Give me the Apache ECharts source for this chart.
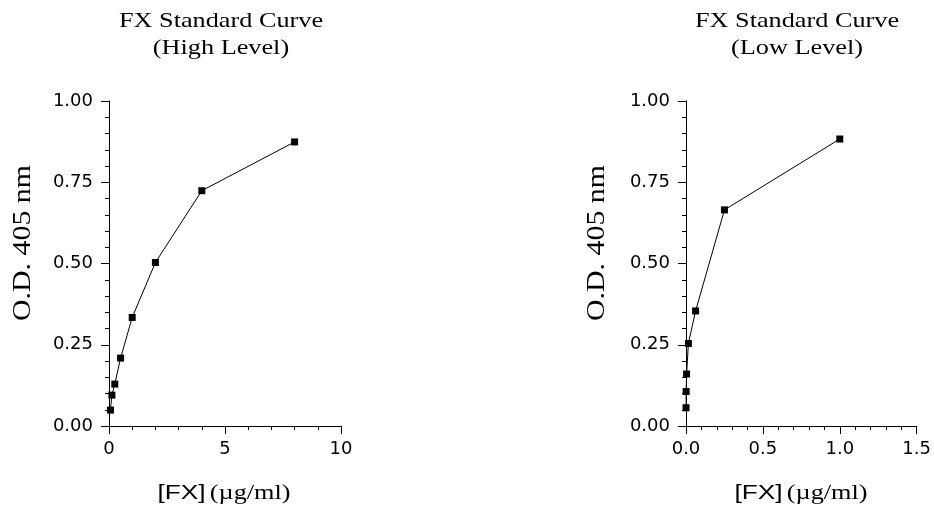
<!DOCTYPE html>
<html><head><meta charset="utf-8">
<script src="https://cdn.jsdelivr.net/npm/echarts@6/dist/echarts.min.js"></script>
<style>html,body{margin:0;padding:0;background:#fff}#c{width:934px;height:512px}</style>
</head><body><div id="c"></div>
<script>
const highX = [0.0625, 0.125, 0.25, 0.5, 1, 2, 4, 8];
const highY = [0.049, 0.095, 0.129, 0.209, 0.334, 0.503, 0.724, 0.874];
const lowX = [0.00024, 0.00098, 0.0039, 0.015625, 0.0625, 0.25, 1];
const lowY = [0.056, 0.106, 0.160, 0.254, 0.354, 0.665, 0.883];
const titleLine1 = 'FX Standard Curve';
const titleLine2 = ['(High Level)', '(Low Level)'];
const yName = 'O.D. 405 nm';
const xNameA = '[FX]';
const xNameB = '(µg/ml)';

const serif = '"Liberation Serif", "Times New Roman", serif';
const sans = '"Liberation Sans", Arial, sans-serif';
const tickFont = '"DejaVu Sans", sans-serif';

function pairs(xs, ys){ return xs.map((x,i)=>[x, ys[i]]); }

function xAxis(idx, max, interval, fmt){
  return {
    type:'value', gridIndex:idx, min:0, max:max, interval:interval,
    axisLine:{show:true, onZero:false, lineStyle:{color:'#000', width:1}},
    axisTick:{show:true, length:8, lineStyle:{color:'#000'}},
    minorTick:{show:true, splitNumber:5, length:4, lineStyle:{color:'#000'}},
    splitLine:{show:false},
    axisLabel:{color:'#000', fontFamily:tickFont, fontSize:18, margin:14, formatter:fmt}
  };
}
function yAxis(idx){
  return {
    type:'value', gridIndex:idx, min:0, max:1, interval:0.25,
    axisLine:{show:true, onZero:false, lineStyle:{color:'#000', width:1}},
    axisTick:{show:true, length:8, lineStyle:{color:'#000'}},
    minorTick:{show:true, splitNumber:5, length:4, lineStyle:{color:'#000'}},
    splitLine:{show:false},
    axisLabel:{color:'#000', fontFamily:tickFont, fontSize:18, margin:16, formatter:v=>v.toFixed(2)}
  };
}
function series(idx, data){
  return {type:'line', xAxisIndex:idx, yAxisIndex:idx, data:data, symbol:'rect', symbolSize:7,
    showSymbol:true, lineStyle:{color:'#000', width:1}, itemStyle:{color:'#000'}, animation:false};
}
function txt(text, x, y, size, opts){
  return Object.assign({type:'text', x:x, y:y, silent:true,
    style:{text:text, fontFamily:serif, fontSize:size, fill:'#000',
      align:'center', verticalAlign:'middle', textAlign:'center', textVerticalAlign:'middle'}}, opts||{});
}
function xNameText(x, y){
  return {type:'text', x:x, y:y, scaleX:1.25, silent:true,
    style:{text:'{a|'+xNameA+'} {b|'+xNameB+'}', fill:'#000',
      align:'center', verticalAlign:'middle', textAlign:'center', textVerticalAlign:'middle',
      rich:{a:{fontFamily:sans, fontSize:21, fill:'#000', color:'#000'}, b:{fontFamily:serif, fontSize:21, fill:'#000', color:'#000'}}}};
}

const chart = echarts.init(document.getElementById('c'));
chart.setOption({
  animation:false,
  grid:[
    {left:109, top:101, width:232, height:325},
    {left:686, top:101, width:231, height:325}
  ],
  xAxis:[xAxis(0, 10, 5, v=>String(v)), xAxis(1, 1.5, 0.5, v=>v.toFixed(1))],
  yAxis:[yAxis(0), yAxis(1)],
  series:[series(0, pairs(highX, highY)), series(1, pairs(lowX, lowY))],
  graphic:[
    txt(titleLine1, 221, 21, 21, {scaleX:1.25}),
    txt(titleLine2[0], 221, 48, 21, {scaleX:1.25}),
    txt(titleLine1, 797, 21, 21, {scaleX:1.25}),
    txt(titleLine2[1], 797, 48, 21, {scaleX:1.25}),
    txt(yName, 23, 243, 26, {rotation:Math.PI/2, scaleX:1.15}),
    txt(yName, 597, 243, 26, {rotation:Math.PI/2, scaleX:1.15}),
    xNameText(224, 493),
    xNameText(801, 493)
  ]
});
</script></body></html>
